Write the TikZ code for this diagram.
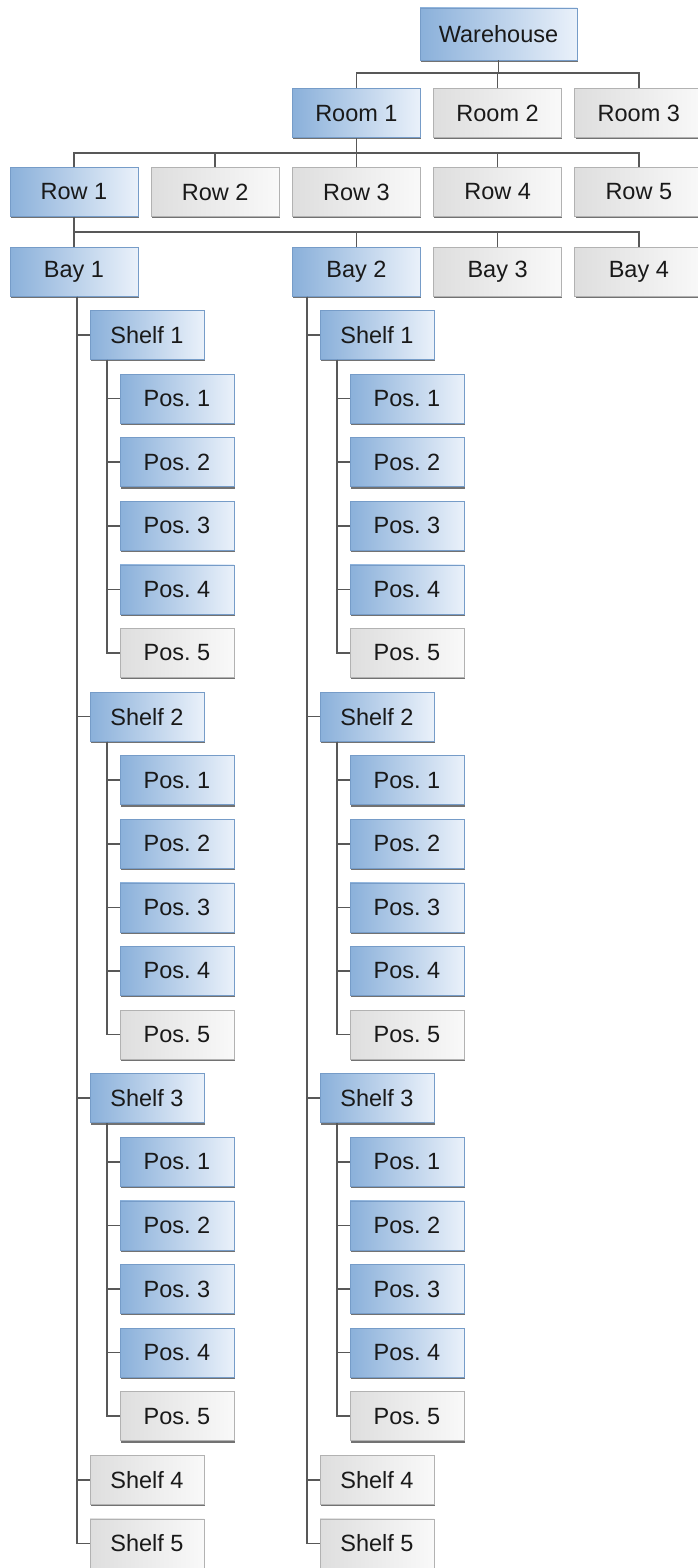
\documentclass[tikz,border=0pt]{standalone}
\usepackage{fontspec}
\setmainfont{Liberation Sans}
\usetikzlibrary{positioning,shadows}
\definecolor{bluedark}{RGB}{138,176,218}
\definecolor{bluelight}{RGB}{234,241,250}
\definecolor{blueedge}{RGB}{118,156,200}
\definecolor{graydark}{RGB}{222,222,222}
\definecolor{graylight}{RGB}{249,249,249}
\definecolor{grayedge}{RGB}{178,178,178}
\definecolor{linegray}{RGB}{88,88,88}
\frenchspacing

\begin{document}
\begin{tikzpicture}[x=1pt, y=1pt,
    box/.style={rectangle, draw, line width=0.8pt, minimum width=128pt, minimum height=49pt,
                inner sep=0pt, font=\fontsize{23.5}{27}\selectfont, text=black!90,
                drop shadow={shadow xshift=0.8pt, shadow yshift=-1.8pt, opacity=0.85, fill=black!65}},
    used/.style={box, draw=blueedge, left color=bluedark, right color=bluelight},
    spare/.style={box, draw=grayedge, left color=graydark, right color=graylight},
    small/.style={minimum width=114pt},
    link/.style={draw=linegray, line width=1.5pt}]
  \useasboundingbox (0,0) rectangle (698,-1568);

  % top levels
  \node[used, minimum width=157pt, minimum height=52pt] (wh) at (498.5,-34) {Warehouse};
  \node[used] (row1) at (74,-192) {Row 1};
  \node[spare, right=12.4pt of row1] (row2) {Row 2};
  \node[spare, right=12.4pt of row2] (row3) {Row 3};
  \node[spare, right=12.4pt of row3] (row4) {Row 4};
  \node[spare, right=12.4pt of row4] (row5) {Row 5};
  \node[used, above=29pt of row3] (room1) {Room 1};
  \node[spare, right=12.4pt of room1] (room2) {Room 2};
  \node[spare, right=12.4pt of room2] (room3) {Room 3};
  \node[used, below=30pt of row1] (bay1) {Bay 1};
  \node[used] (bay2) at (row3 |- bay1) {Bay 2};
  \node[spare, right=12.4pt of bay2] (bay3) {Bay 3};
  \node[spare, right=12.4pt of bay3] (bay4) {Bay 4};

  \foreach \r in {1,2,3}
    \draw[link] (wh.south) -- ++(0,-12.5) -| (room\r.north);
  \foreach \r in {1,...,5}
    \draw[link] (room1.south) -- ++(0,-15) -| (row\r.north);
  \foreach \r in {1,...,4}
    \draw[link] (row1.south) -- ++(0,-15) -| (bay\r.north);

  % shelves and positions below bay 1 and bay 2
  \foreach \b/\tx in {1/77, 2/307}{
    \coordinate (tr\b) at (\tx,0);
    \foreach \s/\st in {1/used, 2/used, 3/used, 4/spare, 5/spare}{
      \pgfmathsetmacro\sy{335+63.6*(6*min(\s-1,3)+max(\s-4,0))}
      \node[\st, small] (sh\b\s) at (\tx+70,-\sy) {Shelf \s};
      \draw[link] (bay\b.south -| tr\b) |- (sh\b\s.west);
    }
    \foreach \s in {1,2,3}{
      \coordinate (st\b\s) at (\tx+30,0);
      \foreach \p/\st in {1/used, 2/used, 3/used, 4/used, 5/spare}{
        \node[\st, small] (pos\b\s\p) at ([yshift=-63.6*\p] sh\b\s.center -| {\tx+100,0}) {Pos. \p};
        \draw[link] (sh\b\s.south -| st\b\s) |- (pos\b\s\p.west);
      }
    }
  }
\end{tikzpicture}
\end{document}
